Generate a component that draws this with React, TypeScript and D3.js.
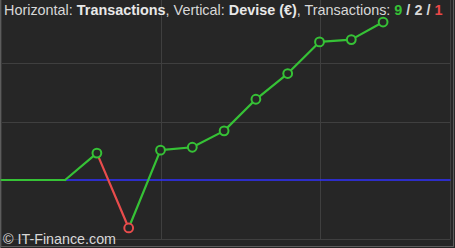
import React from "react";
import * as d3 from "d3";

const W = 455;
const H = 248;

// transaction index (x) and cumulative result in € (y)
const txIndex = [0, 1, 2, 3, 4, 5, 6, 7, 8, 9, 10, 11, 12];
const cumValue = [0, 0, 0, 46, -82, 51, 56, 84, 138, 182, 236, 240, 270];
const markerFrom = 3; // first transaction drawn with a marker

const yGrid = [-100, 100, 200];
const xGrid = [5, 10];

const titleParts = [
  { t: "Horizontal: ", bold: false, c: "#d8d8d8" },
  { t: "Transactions", bold: true, c: "#e8e8e8" },
  { t: ", Vertical: ", bold: false, c: "#d8d8d8" },
  { t: "Devise (€)", bold: true, c: "#e8e8e8" },
  { t: ", Transactions: ", bold: false, c: "#d8d8d8" },
  { t: "9", bold: true, c: "#36c236" },
  { t: " / ", bold: true, c: "#d8d8d8" },
  { t: "2", bold: true, c: "#d8d8d8" },
  { t: " / ", bold: true, c: "#d8d8d8" },
  { t: "1", bold: true, c: "#ea4848" },
];

const GREEN = "#36c236";
const RED = "#e84c4c";
const BLUE = "#3030ff";
const BG = "#262626";

export default function App() {
  const x = d3.scaleLinear().domain([0, 15]).range([1.5, 478.5]);
  const y = d3.scaleLinear().domain([-100, 300]).range([238.5, 4.5]);
  const plotRight = 450.5;
  const plotBottom = 239;

  const segs = [] as { x1: number; y1: number; x2: number; y2: number; c: string }[];
  for (let i = 1; i < txIndex.length; i++) {
    const down = cumValue[i] < cumValue[i - 1];
    segs.push({
      x1: x(txIndex[i - 1]),
      y1: y(cumValue[i - 1]),
      x2: x(txIndex[i]),
      y2: y(cumValue[i]),
      c: down ? RED : GREEN,
    });
  }

  return (
    <svg
      width={W}
      height={H}
      style={{ position: "absolute", left: 0, top: 0, display: "block" }}
      fontFamily="'Liberation Sans', Arial, sans-serif"
    >
      <rect x={0} y={0} width={W} height={H} fill={BG} />
      {/* grid */}
      {yGrid.map((v) => (
        <line key={"gy" + v} x1={1} x2={plotRight} y1={Math.round(y(v)) + 0.5} y2={Math.round(y(v)) + 0.5} stroke="#3f3f3f" strokeWidth={1} />
      ))}
      {xGrid.map((v) => (
        <line key={"gx" + v} x1={Math.round(x(v)) + 0.5} x2={Math.round(x(v)) + 0.5} y1={0} y2={plotBottom} stroke="#3f3f3f" strokeWidth={1} />
      ))}
      <line x1={plotRight} x2={plotRight} y1={0} y2={plotBottom} stroke="#3f3f3f" />
      {/* outer frame */}
      <line x1={0.5} x2={0.5} y1={0} y2={H} stroke="#5c5c5c" />
      <line x1={1.5} x2={1.5} y1={0} y2={246} stroke="#3a3a3a" />
      <line x1={W - 1.5} x2={W - 1.5} y1={0} y2={247} stroke="#5c5c5c" />
      <line x1={0} x2={W - 1} y1={246.5} y2={246.5} stroke="#5c5c5c" />
      {/* zero line */}
      <line x1={1.5} x2={plotRight} y1={y(0)} y2={y(0)} stroke={BLUE} strokeWidth={1.3} />
      {/* equity segments */}
      {segs.map((s, i) => (
        <line key={"s" + i} x1={s.x1} y1={s.y1} x2={s.x2} y2={s.y2} stroke={s.c} strokeWidth={2.2} strokeLinecap="round" />
      ))}
      {/* markers */}
      {txIndex.slice(markerFrom).map((t, k) => {
        const i = k + markerFrom;
        const down = cumValue[i] < cumValue[i - 1];
        return (
          <circle key={"m" + i} cx={x(t)} cy={y(cumValue[i])} r={4.4} fill={BG} stroke={down ? RED : GREEN} strokeWidth={2} />
        );
      })}
      {/* title */}
      <text x={4} y={14.5} fontSize={14.4}>
        {titleParts.map((p, i) => (
          <tspan key={i} fill={p.c} fontWeight={p.bold ? "bold" : "normal"} style={{ whiteSpace: "pre" }}>
            {p.t}
          </tspan>
        ))}
      </text>
      {/* watermark */}
      <text x={3} y={244} fontSize={14.3} fill="#d8d8d8">
        © IT-Finance.com
      </text>
    </svg>
  );
}
